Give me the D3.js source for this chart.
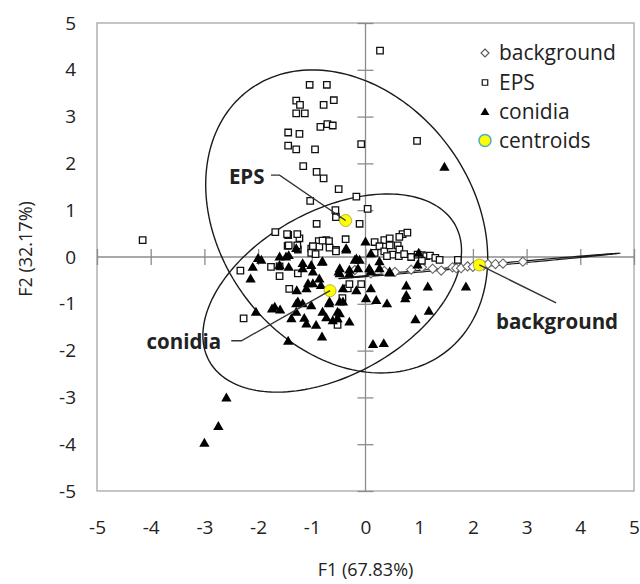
<!DOCTYPE html>
<html><head><meta charset="utf-8">
<script src="https://cdn.jsdelivr.net/npm/d3@7"></script>
<style>
html,body{margin:0;padding:0;background:#fff;}
text{font-family:"Open Sans",sans-serif;fill:#222;}
</style></head>
<body><svg id="c" width="640" height="584"></svg>
<script>
// ---------- data ----------
const axisTicks = [-5,-4,-3,-2,-1,0,1,2,3,4,5];
const seriesNames = ["background","EPS","conidia","centroids"];
const xTitle = "F1 (67.83%)";
const yTitle = "F2 (32.17%)";

const backgroundPts = [
 [-0.2,-0.28],[0.1,-0.35],[0.35,-0.3],[0.55,-0.32],[0.85,-0.27],[1.05,-0.22],[1.25,-0.25],[1.41,-0.29],
 [1.62,-0.22],[1.69,-0.24],[1.78,-0.24],[1.9,-0.2],[2.0,-0.21],[2.2,-0.18],[2.28,-0.15],[2.42,-0.15],
 [2.56,-0.14],[2.93,-0.10]
];
const epsPts = [
 [-1.04,3.68],[-0.72,3.68],[-1.29,3.34],[-1.22,3.25],[-0.59,3.35],[-0.78,3.25],[-1.29,3.07],[-1.13,3.07],
 [-0.84,2.78],[-0.71,2.84],[-0.61,2.81],[-1.44,2.66],[-1.23,2.63],[-1.44,2.38],[-1.29,2.30],[-0.94,2.30],
 [-0.08,2.41],[-1.16,1.94],[-0.91,1.82],[-0.78,1.68],[-0.50,1.45],[-0.17,1.29],[-1.03,1.20],[-0.56,1.00],
 [-0.55,0.85],[0.04,1.03],[-0.91,0.71],[-0.11,0.71],[-1.68,0.53],[-1.44,0.47],[-1.23,0.40],[-0.87,0.34],
 [-0.73,0.36],[-0.68,0.34],[-0.37,0.38],[-4.15,0.36],[-1.45,0.24],[-1.26,0.16],[-1.01,0.18],[-0.86,0.22],
 [-0.67,0.20],[-0.55,0.15],[-0.98,0.23],[-0.80,0.35],[0.27,4.41],[0.96,2.48],[0.69,0.49],[0.78,0.52],
 [0.35,0.36],[0.45,0.40],[0.63,0.43],[0.17,0.32],[0.26,0.23],[0.17,0.09],[0.35,0.12],[-1.01,0.09],
 [-0.93,0.06],[-0.55,0.12],[-1.46,0.49],[-1.27,0.49],[-1.43,0.25],[-1.27,0.25],
 [0.45,0.25],[0.6,0.25],[0.63,0.16],[0.5,0.05],[0.62,0.02],[0.72,0.06],[0.85,0.0],[0.97,0.05],
 [1.05,0.04],[1.13,0.02],[1.2,0.03],[1.3,-0.02],[1.38,-0.06],[1.05,-0.08],[1.72,-0.06],[0.4,0.02],
 [-2.33,-0.29],[-1.76,-0.21],[-1.6,-0.41],[-1.42,-0.68],[-2.27,-1.31],[-1.26,-0.35],[-0.33,-0.67],
 [-0.43,-0.88],[-0.52,-1.45],[-1.6,-0.2],[-0.3,-0.58],[-0.08,-0.58]
];
const conidiaPts = [
 [-1.43,0.04],[-2.10,-0.21],[-1.94,-0.06],[-2.14,-0.46],[-1.60,-0.17],[-1.43,-0.21],[-1.17,-0.24],[-1.01,-0.17],
 [-0.81,-0.10],[-0.50,-0.31],[-0.36,0.19],[-0.17,-0.03],[-0.14,-0.24],[-0.86,-0.46],[-1.07,-0.56],[-1.28,-0.71],
 [-0.17,-0.71],[0.01,-0.88],[-1.26,-0.95],[-1.01,-1.03],[-0.68,-0.99],[-1.74,-1.10],[-1.59,-1.12],[-2.04,-1.17],
 [-1.38,-1.31],[-1.14,-1.30],[-0.92,-1.45],[-0.73,-1.29],[-0.52,-1.17],[-0.52,-1.31],[-0.81,-1.70],[-1.44,-1.79],
 [-2.59,-3.00],[-2.74,-3.61],[-3.00,-3.97],[-0.42,-0.95],
 [0.76,-0.61],[1.16,-0.63],[1.87,-0.63],[0.74,-0.88],[1.18,-1.15],[0.93,-1.33],[0.14,-1.86],[0.34,-1.84],
 [0.10,-0.31],[0.26,-0.24],[0.45,-0.33],[0.20,-0.92],[0.40,-0.99],[0.10,-0.67],[1.47,1.93],[0.0,0.33],[0.1,0.08],
 [-2.0,-0.02],[-1.6,0.01],[-1.48,0.01],[-1.29,0.19],[-0.36,0.16],[-0.8,-0.09],[0.26,-0.09],[0.07,-0.24],
 [-0.2,-0.06],[-0.11,-0.06],[-0.48,-0.24],[-0.3,-0.27],[-1.17,-0.13],[-0.98,-0.31],
 [-0.48,-0.35],[-0.3,-0.35],[-0.98,-0.56],[-0.83,-0.6],[-1.1,-0.67],[-0.42,-0.67],[-0.67,-0.95],[-0.48,-0.95],
 [-1.17,-0.99],[-0.48,-1.2],[-0.8,-1.17],[-0.61,-1.35],[-1.1,-1.42],[-0.3,-1.38],[-1.69,-1.06],[-1.29,-0.99],
 [-1.29,-1.17],[0.99,0.09],[0.97,-0.16],[0.45,-0.31],[0.76,-0.81]
];
// centroids: background, EPS, conidia
const centroidPts = [[2.12,-0.17],[-0.37,0.78],[-0.66,-0.72]];

// confidence ellipses: centre + two conjugate semi-axis vectors (data units)
const ellipseCenters = [[2.12,-0.19],[-0.35,0.76],[-0.62,-0.77]];
const ellipseU = [[2.61,0.27],[1.827,-2.803],[2.292,1.449]];
const ellipseV = [[-0.001,0.02],[1.886,1.620],[-0.739,1.543]];

// annotation labels (text, anchor point, connector points)
const labelNames = ["background","EPS","conidia"];
const labelAnchors = [[2.43,-1.38],[-1.88,1.72],[-2.69,-1.81]];
const connectorPts = [
 [[2.12,-0.17],[3.55,-0.98]],
 [[-1.76,1.75],[-1.60,1.75],[-0.37,0.78]],
 [[-2.50,-1.79],[-2.31,-1.79],[-0.66,-0.72]]
];

// ---------- chart ----------
const svg = d3.select("#c");
const L=97, T=23, W=537, H=468;
const x = d3.scaleLinear().domain([-5,5]).range([L,L+W]);
const y = d3.scaleLinear().domain([-5,5]).range([T+H,T]);
const g = svg.append("g");

// plot border
g.append("rect").attr("x",L).attr("y",T).attr("width",W).attr("height",H)
 .attr("fill","none").attr("stroke","#a6a6a6").attr("stroke-width",1.3);

// crossing axes with cross ticks
const tk = 8;
const xa = g.append("g").attr("transform",`translate(0,${y(0)-tk})`)
 .call(d3.axisBottom(x).tickValues(axisTicks).tickSize(2*tk).tickFormat(""));
const ya = g.append("g").attr("transform",`translate(${x(0)+tk},0)`)
 .call(d3.axisLeft(y).tickValues(axisTicks).tickSize(2*tk).tickFormat(""));
[xa,ya].forEach(a=>{a.select(".domain").remove();a.selectAll("line").attr("stroke","#8c8c8c").attr("stroke-width",1.3);});
g.append("line").attr("x1",x(-5)).attr("x2",x(5)).attr("y1",y(0)).attr("y2",y(0)).attr("stroke","#8c8c8c").attr("stroke-width",1.3);
g.append("line").attr("y1",y(-5)).attr("y2",y(5)).attr("x1",x(0)).attr("x2",x(0)).attr("stroke","#8c8c8c").attr("stroke-width",1.3);

// tick labels
const xl = g.append("g").attr("transform",`translate(0,${T+H+26})`)
 .call(d3.axisBottom(x).tickValues(axisTicks).tickSize(0).tickFormat(d3.format("d")));
const yl = g.append("g").attr("transform",`translate(${L-18},0)`)
 .call(d3.axisLeft(y).tickValues(axisTicks).tickSize(0).tickFormat(d3.format("d")));
[xl,yl].forEach(a=>{a.select(".domain").remove();a.selectAll("text").attr("font-family","Open Sans").attr("font-size",19).attr("fill","#222");});
xl.selectAll("text").text(d=>d<0?"-"+Math.abs(d):d);
yl.selectAll("text").text(d=>d<0?"-"+Math.abs(d):d);

// axis titles
g.append("text").attr("x",x(0)).attr("y",576).attr("text-anchor","middle").attr("font-size",18).text(xTitle);
g.append("text").attr("transform",`translate(32,${y(0)-8}) rotate(-90)`).attr("text-anchor","middle").attr("font-size",18).text(yTitle);

// ellipses
const line = d3.line().x(d=>x(d[0])).y(d=>y(d[1])).curve(d3.curveLinearClosed);
ellipseCenters.forEach((c,i)=>{
  const pts = d3.range(0,360,2).map(a=>{const t=a*Math.PI/180;
    return [c[0]+ellipseU[i][0]*Math.cos(t)+ellipseV[i][0]*Math.sin(t),
            c[1]+ellipseU[i][1]*Math.cos(t)+ellipseV[i][1]*Math.sin(t)];});
  g.append("path").attr("d",line(pts)).attr("fill","none")
   .attr("stroke","#1a1a1a").attr("stroke-width",i===0?1.2:1.4);
});

// symbols
const diamond = s=>`M0,${-s}L${s},0L0,${s}L${-s},0Z`;
const tri = d3.symbol().type(d3.symbolTriangle).size(46)();
const sq = d3.symbol().type(d3.symbolSquare).size(42)();

g.append("g").selectAll("path").data(backgroundPts).join("path")
 .attr("d",diamond(4.6)).attr("transform",d=>`translate(${x(d[0])},${y(d[1])})`)
 .attr("fill","#fff").attr("stroke","#666").attr("stroke-width",1.1);
g.append("g").selectAll("path").data(epsPts).join("path")
 .attr("d",sq).attr("transform",d=>`translate(${x(d[0])},${y(d[1])})`)
 .attr("fill","#fff").attr("stroke","#111").attr("stroke-width",1.3);
g.append("g").selectAll("path").data(conidiaPts).join("path")
 .attr("d",tri).attr("transform",d=>`translate(${x(d[0])},${y(d[1])+1})`)
 .attr("fill","#000");
g.append("g").selectAll("circle").data(centroidPts).join("circle")
 .attr("cx",d=>x(d[0])).attr("cy",d=>y(d[1])).attr("r",6)
 .attr("fill","#ffff00").attr("stroke","#b5b53a").attr("stroke-width",1);

// connectors + labels
const cline = d3.line().x(d=>x(d[0])).y(d=>y(d[1]));
connectorPts.forEach(p=>g.append("path").attr("d",cline(p)).attr("fill","none").attr("stroke","#333").attr("stroke-width",1.4));
labelNames.forEach((n,i)=>{
  g.append("text").attr("x",x(labelAnchors[i][0])).attr("y",y(labelAnchors[i][1])).attr("dy","0.35em")
   .attr("text-anchor",i===0?"start":"end").attr("font-weight","bold").attr("font-size",20.5).text(n);
});

// legend
const lg = g.append("g");
const legRowY = [53,82.5,111.5,140.5];
seriesNames.forEach((n,i)=>{
  const ry = legRowY[i], mx = 485;
  if(i===0) lg.append("path").attr("d",diamond(4)).attr("transform",`translate(${mx},${ry})`).attr("fill","#fff").attr("stroke","#555").attr("stroke-width",1.1);
  if(i===1) lg.append("path").attr("d",d3.symbol().type(d3.symbolSquare).size(30)()).attr("transform",`translate(${mx},${ry})`).attr("fill","#fff").attr("stroke","#111").attr("stroke-width",1.2);
  if(i===2) lg.append("path").attr("d",d3.symbol().type(d3.symbolTriangle).size(34)()).attr("transform",`translate(${mx},${ry+1})`).attr("fill","#000");
  if(i===3) lg.append("circle").attr("cx",mx).attr("cy",ry).attr("r",6).attr("fill","#ffff00").attr("stroke","#4bacc6").attr("stroke-width",1.5);
  lg.append("text").attr("x",499).attr("y",ry).attr("dy","0.35em").attr("font-size",21).text(n);
});
</script></body></html>
